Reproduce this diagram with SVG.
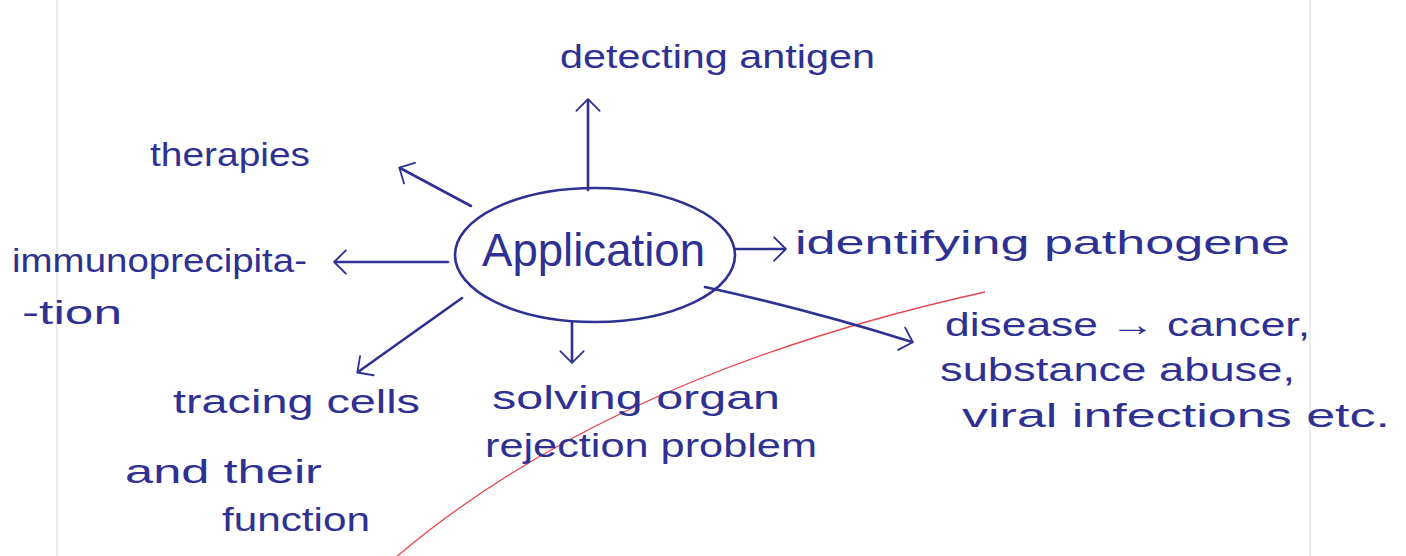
<svg xmlns="http://www.w3.org/2000/svg" width="1406" height="556" viewBox="0 0 1406 556">
  <style>
    .ink { fill: #2e3192; font-family: "Liberation Sans", "DejaVu Sans", sans-serif; font-size: 34px; }
    .big { font-size: 46px; }
    .line { stroke: #2e3192; stroke-width: 2.6; fill: none; stroke-linecap: round; }
    .page { stroke: #ebebf3; stroke-width: 2; fill: none; }
  </style>
  <defs>
    <marker id="arr" viewBox="0 0 12 12" refX="11" refY="6" markerWidth="10" markerHeight="10" markerUnits="userSpaceOnUse" orient="auto" overflow="visible">
      <path d="M-2,-8 L12,6 L-2,20" fill="none" stroke="#2e3192" stroke-width="2.2" stroke-linecap="round" stroke-linejoin="round"/>
    </marker>
  </defs>
  <rect width="1406" height="556" fill="#ffffff"/>
  <g id="page-lines">
    <line class="page" x1="57" y1="0" x2="57" y2="556"/>
    <line class="page" x1="1310" y1="0" x2="1310" y2="556"/>
    <path d="M395,558 Q610,375 985,292" stroke="#e8454f" stroke-width="1.3" fill="none"/>
  </g>
  <g id="connectors">
    <line class="line" x1="588" y1="190" x2="588" y2="100" marker-end="url(#arr)"/>
    <line class="line" x1="471" y1="206" x2="400" y2="168" marker-end="url(#arr)"/>
    <line class="line" x1="448" y1="262" x2="335" y2="262" marker-end="url(#arr)"/>
    <line class="line" x1="735" y1="249" x2="785" y2="249" marker-end="url(#arr)"/>
    <path class="line" d="M705,287 Q810,310 912,342" marker-end="url(#arr)"/>
    <line class="line" x1="572" y1="323" x2="572" y2="362" marker-end="url(#arr)"/>
    <line class="line" x1="462" y1="298" x2="358" y2="372" marker-end="url(#arr)"/>
  </g>
  <g id="application">
    <ellipse class="line" cx="595" cy="255" rx="140" ry="67"/>
    <text class="ink big" x="482" y="266" textLength="223" lengthAdjust="spacingAndGlyphs">Application</text>
  </g>
  <g id="detecting-antigen">
    <text class="ink" x="560" y="68" textLength="315" lengthAdjust="spacingAndGlyphs">detecting antigen</text>
  </g>
  <g id="therapies">
    <text class="ink" x="150" y="166" textLength="160" lengthAdjust="spacingAndGlyphs">therapies</text>
  </g>
  <g id="immunoprecipitation">
    <text class="ink" x="12" y="272" textLength="295" lengthAdjust="spacingAndGlyphs">immunoprecipita-</text>
    <text class="ink" x="22" y="324" textLength="100" lengthAdjust="spacingAndGlyphs">-tion</text>
  </g>
  <g id="identifying-pathogene">
    <text class="ink" x="795" y="254" textLength="495" lengthAdjust="spacingAndGlyphs" font-size="36">identifying pathogene</text>
  </g>
  <g id="disease">
    <text class="ink" x="945" y="336" textLength="365" lengthAdjust="spacingAndGlyphs">disease → cancer,</text>
    <text class="ink" x="940" y="381" textLength="355" lengthAdjust="spacingAndGlyphs">substance abuse,</text>
    <text class="ink" x="962" y="427" textLength="428" lengthAdjust="spacingAndGlyphs">viral infections etc.</text>
  </g>
  <g id="solving-organ">
    <text class="ink" x="492" y="409" textLength="288" lengthAdjust="spacingAndGlyphs">solving organ</text>
    <text class="ink" x="485" y="457" textLength="332" lengthAdjust="spacingAndGlyphs">rejection problem</text>
  </g>
  <g id="tracing-cells">
    <text class="ink" x="173" y="413" textLength="247" lengthAdjust="spacingAndGlyphs">tracing cells</text>
    <text class="ink" x="125" y="483" textLength="197" lengthAdjust="spacingAndGlyphs">and their</text>
    <text class="ink" x="222" y="531" textLength="148" lengthAdjust="spacingAndGlyphs">function</text>
  </g>
</svg>
